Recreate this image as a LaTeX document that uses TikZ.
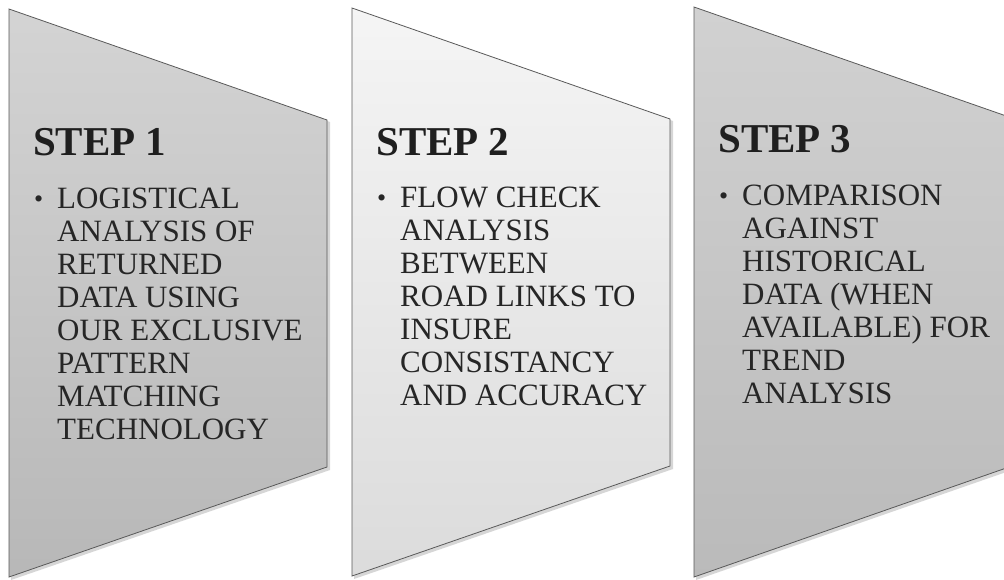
\documentclass[tikz,border=0pt]{standalone}
\usepackage{fontspec}
\setmainfont{Liberation Serif}
\begin{document}
\begin{tikzpicture}[x=1pt,y=-1pt,
  stepshape/.style={draw=black!65, line width=0.8pt},
  shadowshape/.style={fill=black!45, opacity=0.35},
  titletext/.style={anchor=base west, inner sep=0pt, text=black!88,
    font=\bfseries\fontsize{41}{41}\selectfont},
  bullettext/.style={anchor=base west, inner sep=0pt, text=black!85,
    font=\fontsize{26}{33}\selectfont},
  bodytext/.style={anchor=base west, inner sep=0pt, text=black!85,
    font=\fontsize{31}{33}\selectfont}]
\useasboundingbox (0,0) rectangle (1004,579);
\fill[white] (0,0) rectangle (1004,579);
% shadows
\fill[shadowshape] (11,11) -- (330,122) -- (330,470) -- (11,580) -- cycle;
\fill[shadowshape] (354,10) -- (673,121) -- (673,469) -- (354,579) -- cycle;
\fill[shadowshape] (696,9) -- (1015,120) -- (1015,469) -- (696,580) -- cycle;
% shapes
\draw[stepshape, top color=black!17, bottom color=black!28]
  (9,9) coordinate (s1a) -- (327,120) -- (327,467) -- (9,577) -- cycle;
\draw[stepshape, top color=black!4, bottom color=black!14]
  (352,8) coordinate (s2a) -- (670,119) -- (670,466) -- (352,576) -- cycle;
\draw[stepshape, top color=black!18, bottom color=black!27]
  (694,7) coordinate (s3a) -- (1012,118) -- (1012,466) -- (694,577) -- cycle;
% texts
\node[titletext] (t1) at (33,155) {STEP 1};
\node[bullettext] (b1) at (34,207) {\textbullet};
\node[bodytext] (x1) at (57,208) {\parbox[t]{265pt}{\raggedright
  LOGISTICAL\\ANALYSIS OF\\RETURNED\\DATA USING\\OUR EXCLUSIVE\\PATTERN\\MATCHING\\TECHNOLOGY}};
\node[titletext] (t2) at (376,155) {STEP 2};
\node[bullettext] (b2) at (377,206) {\textbullet};
\node[bodytext] (x2) at (400,207) {\parbox[t]{265pt}{\raggedright
  FLOW CHECK\\ANALYSIS\\BETWEEN\\ROAD LINKS TO\\INSURE\\CONSISTANCY\\AND ACCURACY}};
\node[titletext] (t3) at (718,152) {STEP 3};
\node[bullettext] (b3) at (719,204) {\textbullet};
\node[bodytext] (x3) at (742,205) {\parbox[t]{265pt}{\raggedright
  COMPARISON\\AGAINST\\HISTORICAL\\DATA (WHEN\\AVAILABLE) FOR\\TREND\\ANALYSIS}};
\end{tikzpicture}
\end{document}
